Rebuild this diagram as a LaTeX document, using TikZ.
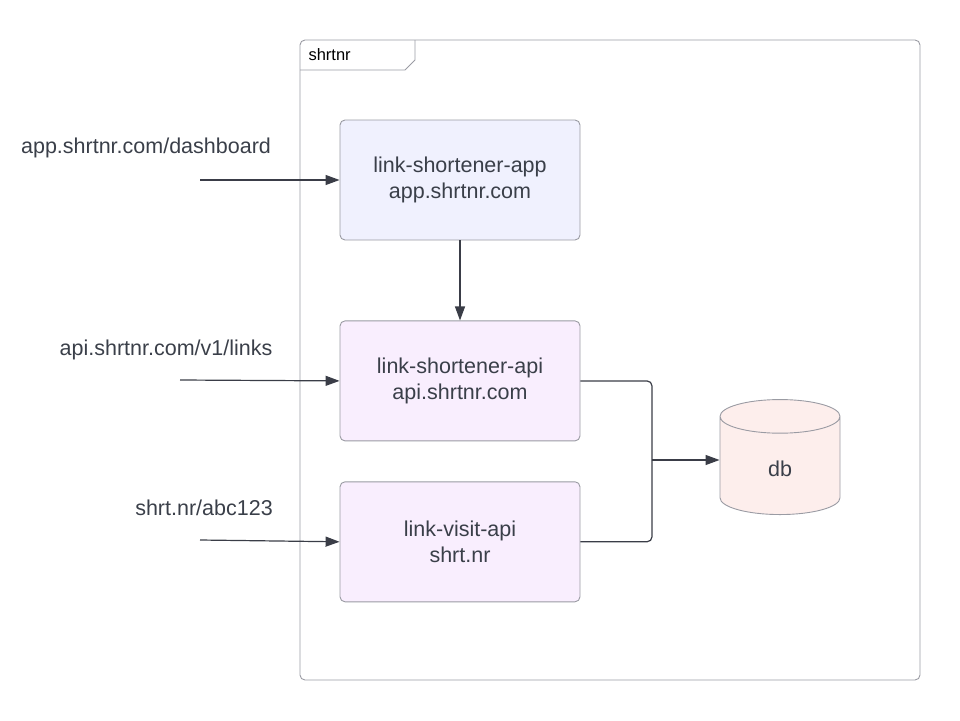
\documentclass[tikz,border=0pt]{standalone}
\usepackage{fontspec}
\setmainfont{Liberation Sans}
\usepackage{tikz}
\usetikzlibrary{positioning, arrows.meta, shapes.geometric}
\definecolor{lineclr}{HTML}{3A3D47}
\definecolor{boxgray}{HTML}{9A9BA3}
\definecolor{txtclr}{HTML}{3A3F49}
\definecolor{appfill}{HTML}{F0F1FE}
\definecolor{apifill}{HTML}{F9EEFE}
\definecolor{dbfill}{HTML}{FDEEEC}

\begin{document}
\begin{tikzpicture}[x=1pt, y=-1pt,
		svcbox/.style={draw=boxgray, line width=0.9pt, rounded corners=5pt, minimum width=240pt, minimum height=120pt, align=center, text=txtclr, font=\fontsize{21.5}{25.5}\selectfont},
		lbl/.style={text=txtclr, font=\fontsize{21.5}{25.5}\selectfont},
		link/.style={draw=lineclr, line width=1.2pt, -{Triangle[length=14pt,width=10pt]}},
		joinline/.style={draw=lineclr, line width=1.2pt, rounded corners=5pt}]
	\useasboundingbox (0,0) rectangle (960,720);
	
	% system frame
	\draw[boxgray, line width=0.9pt, rounded corners=5pt] (300,40) rectangle (920,680);
	\draw[boxgray, line width=0.9pt] (300,70) -- (405,70) -- (415,60) -- (415,40);
	\node[anchor=west, text=black, font=\fontsize{16.5}{19}\selectfont] (title) at (305,55) {shrtnr};
	
	% services
	\node[svcbox, fill=appfill] (app) at (460,180) {link-shortener-app\\app.shrtnr.com};
	\node[svcbox, fill=apifill, below=80pt of app] (api) {link-shortener-api\\api.shrtnr.com};
	\node[svcbox, fill=apifill, below=40pt of api] (visit) {link-visit-api\\shrt.nr};
	\node[cylinder, shape border rotate=90, aspect=1.1, anchor=south, draw=boxgray, line width=0.9pt, fill=dbfill, minimum width=120pt, minimum height=115pt, text=txtclr, font=\fontsize{21.5}{25.5}\selectfont] (db) at (780,515) {db};
	
	% incoming requests
	\node[lbl] (lblapp) at (146,148) {app.shrtnr.com/dashboard};
	\node[lbl] (lblapi) at (166,350) {api.shrtnr.com/v1/links};
	\node[lbl] (lblvisit) at (204,508) {shrt.nr/abc123};
	\coordinate (inapp) at (200,180);
	\coordinate (inapi) at (180,380);
	\coordinate (invisit) at (200,540);
	\draw[link] (inapp) -- (app.west);
	\draw[link] (inapi) -- (api.west);
	\draw[link] (invisit) -- (visit.west);
	
	% internal calls
	\draw[link] (app.south) -- (api.north);
	\coordinate (join) at (652,460);
	\draw[joinline] (api.east) -| (join);
	\draw[joinline] (visit.east) -| (join);
	\draw[link] (join) -- (db.west |- join);
\end{tikzpicture}
\end{document}
